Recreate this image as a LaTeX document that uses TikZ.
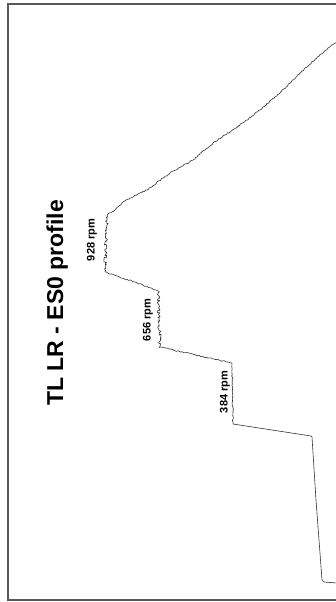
\documentclass[tikz,border=0pt]{standalone}
\usepackage{fontspec}
\setmainfont{Liberation Sans}
\usetikzlibrary{decorations.pathmorphing}
\begin{document}
\begin{tikzpicture}[x=1pt,y=-1pt,
  frame/.style={draw=black!65,line width=1.3pt},
  trace/.style={draw=black!80,line width=0.6pt,line join=round},
  noisy/.style={trace,decorate,decoration={random steps,segment length=1.2pt,amplitude=1.6pt}},
  fine/.style={trace,decorate,decoration={random steps,segment length=1.5pt,amplitude=0.6pt}},
  rpm/.style={font=\fontsize{11}{13}\selectfont\bfseries,rotate=90,anchor=base,inner sep=0pt},
  title/.style={font=\fontsize{23}{27}\selectfont\bfseries,rotate=90,anchor=base,inner sep=0pt}]
\pgfmathsetseed{11}
\useasboundingbox (0,0) rectangle (335,602);
\fill[white] (0,0) rectangle (335,602);
% frame
\draw[frame] (336,4) -- (8,4) -- (8,600) -- (336,600);
% title
\node[title] (t) at (63,303) {TL LR - ES0 profile};
% curve
\coordinate (c0) at (337,42);
\coordinate (c1) at (107,215);
\coordinate (c2) at (105,272);
\coordinate (c3) at (158,291);
\coordinate (c4) at (160,347);
\coordinate (c5) at (232,363);
\coordinate (c6) at (233,424);
\coordinate (c7) at (311,436);
\draw[fine] (c0) -- (328,48) -- (300,73) -- (280,93) -- (260,110) -- (240,125)
  -- (213,143) -- (193,160) -- (170,173) -- (147,190) -- (130,198) -- (123,202)
  -- (115,210) -- (c1);
\draw[noisy] (c1) -- (c2);
\draw[fine] (c2) -- (135,282) -- (c3);
\draw[noisy] (c3) -- (c4);
\draw[fine] (c4) -- (c5);
\draw[fine] (c5) -- (c6);
\draw[trace] (c6) -- (c7);
\draw[trace] (c7) -- (312,437) -- (316,500) -- (322,580) -- (324,582) -- (337,583);
% labels
\node[rpm] (l928) at (94.5,240) {928 rpm};
\node[rpm] (l656) at (150.5,320) {656 rpm};
\node[rpm] (l384) at (227.5,392) {384 rpm};
\end{tikzpicture}
\end{document}
